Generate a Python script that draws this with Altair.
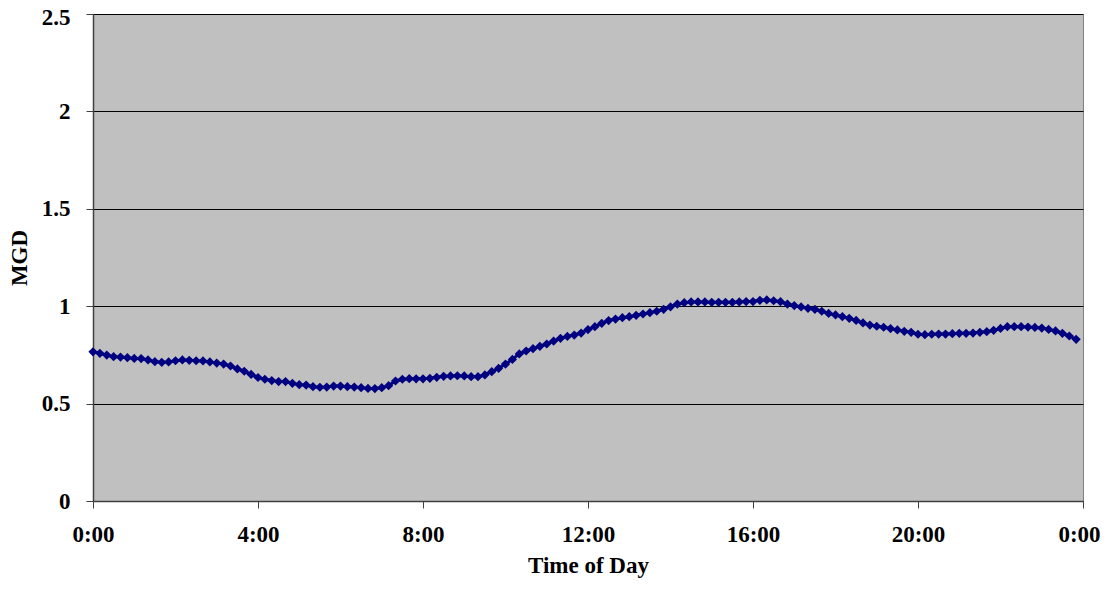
import altair as alt
import pandas as pd

# MGD readings every 10 minutes, split by 4-hour blocks
mgd_00_04 = [0.766, 0.758, 0.749, 0.741, 0.739, 0.736, 0.732, 0.731, 0.724, 0.715,
             0.712, 0.714, 0.720, 0.724, 0.722, 0.720, 0.719, 0.714, 0.708, 0.703,
             0.693, 0.678, 0.666, 0.650]
mgd_04_08 = [0.634, 0.625, 0.618, 0.613, 0.613, 0.604, 0.597, 0.595, 0.587, 0.584,
             0.585, 0.590, 0.590, 0.587, 0.585, 0.582, 0.578, 0.577, 0.582, 0.592,
             0.616, 0.625, 0.628, 0.627]
mgd_08_12 = [0.627, 0.630, 0.635, 0.640, 0.642, 0.643, 0.642, 0.638, 0.638, 0.647,
             0.664, 0.681, 0.703, 0.727, 0.755, 0.770, 0.782, 0.794, 0.806, 0.821,
             0.835, 0.845, 0.852, 0.862]
mgd_12_16 = [0.880, 0.895, 0.912, 0.926, 0.934, 0.941, 0.946, 0.953, 0.960, 0.967,
             0.974, 0.984, 0.997, 1.011, 1.018, 1.022, 1.022, 1.022, 1.020, 1.020,
             1.020, 1.020, 1.022, 1.024]
mgd_16_20 = [1.024, 1.030, 1.032, 1.028, 1.023, 1.011, 1.003, 0.996, 0.989, 0.984,
             0.974, 0.963, 0.955, 0.946, 0.938, 0.927, 0.914, 0.903, 0.897, 0.892,
             0.885, 0.878, 0.871, 0.866]
mgd_20_24 = [0.856, 0.854, 0.856, 0.857, 0.857, 0.859, 0.861, 0.861, 0.862, 0.866,
             0.869, 0.876, 0.886, 0.895, 0.895, 0.895, 0.893, 0.891, 0.888, 0.881,
             0.873, 0.861, 0.847, 0.830]

tick_hours = [0, 4, 8, 12, 16, 20, 24]
tick_labels = ["0:00", "4:00", "8:00", "12:00", "16:00", "20:00", "0:00"]
y_ticks = [0, 0.5, 1, 1.5, 2, 2.5]
y_labels = ["0", "0.5", "1", "1.5", "2", "2.5"]

values = mgd_00_04 + mgd_04_08 + mgd_08_12 + mgd_12_16 + mgd_16_20 + mgd_20_24
df = pd.DataFrame({"hour": [i / 6 for i in range(len(values))], "mgd": values})

x_label_expr = "{" + ",".join(f"'{h}': '{l}'" for h, l in zip(tick_hours, tick_labels)) + "}[datum.value]"
y_label_expr = "{" + ",".join(f"'{v}': '{l}'" for v, l in zip(y_ticks, y_labels)) + "}[datum.value]"

FONT = "Liberation Serif"

x_enc = alt.X(
    "hour:Q",
    scale=alt.Scale(domain=[0, 24], nice=False, zero=False),
    axis=alt.Axis(
        values=tick_hours, labelExpr=x_label_expr, title="Time of Day",
        grid=False, tickSize=7, tickColor="#404040", domainColor="#404040",
        domainWidth=1.5, labelPadding=15, titlePadding=8,
        labelOffset={"expr": "datum.value >= 24 ? -4 : 0"},
        labelFont=FONT, labelFontSize=23, labelFontWeight="bold", labelColor="black",
        titleFont=FONT, titleFontSize=23, titleFontWeight="bold", titleColor="black",
        labelFlush=False,
    ),
)
y_enc = alt.Y(
    "mgd:Q",
    scale=alt.Scale(domain=[0, 2.5], nice=False),
    axis=alt.Axis(
        values=y_ticks, labelExpr=y_label_expr, title="MGD",
        grid=True, gridColor="black", gridWidth=1,
        tickSize=7, tickColor="#404040", domainColor="#404040", domainWidth=1.5,
        labelPadding=16, titlePadding=10,
        labelOffset={"expr": "datum.value >= 2.5 ? 3 : 0"},
        labelFont=FONT, labelFontSize=23, labelFontWeight="bold", labelColor="black",
        titleFont=FONT, titleFontSize=23, titleFontWeight="bold", titleColor="black",
        labelFlush=False,
    ),
)

line = alt.Chart(df).mark_line(color="#000080", strokeWidth=3).encode(x=x_enc, y=y_enc)
pts = alt.Chart(df).mark_point(shape="diamond", filled=True, size=85, color="#000080", opacity=1).encode(
    x="hour:Q", y="mgd:Q"
)

chart = (
    (line + pts)
    .properties(
        width=990, height=487,
        autosize=alt.AutoSizeParams(type="none"),
        padding={"left": 85, "top": 6, "right": 17, "bottom": 81},
        background="white",
    )
    .configure_view(fill="#C0C0C0", stroke="#808080", strokeWidth=1)
)

chart.save("out.html", embed_options={"renderer": "svg", "actions": False})
